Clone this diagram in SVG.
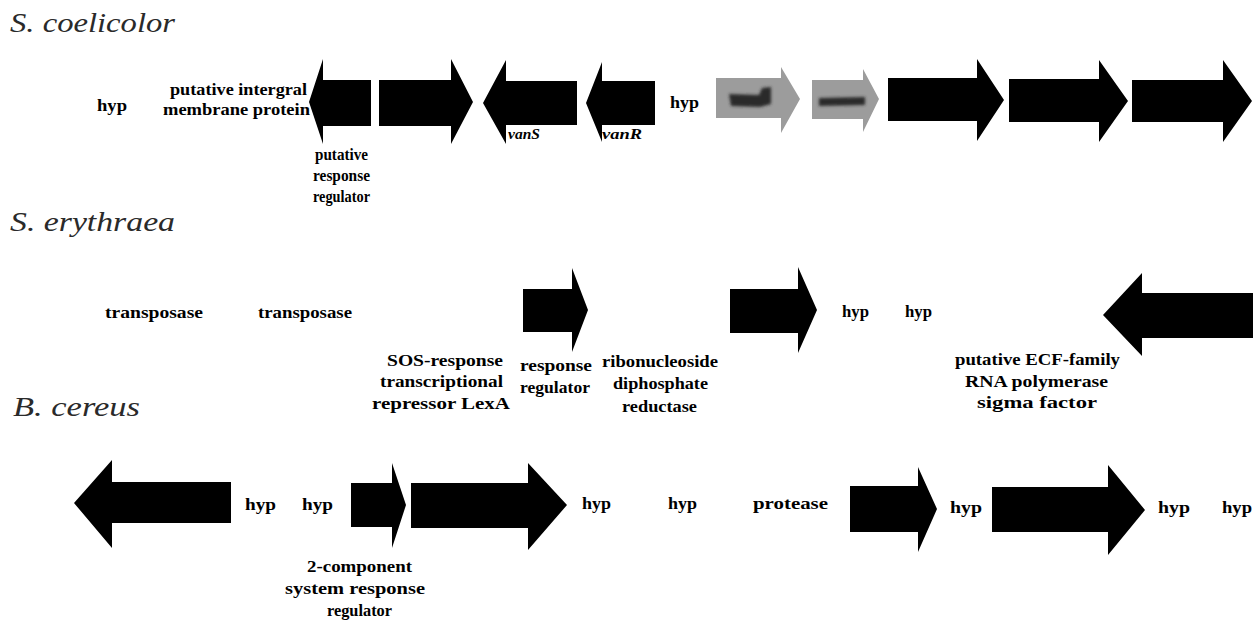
<svg xmlns="http://www.w3.org/2000/svg" width="1253" height="622" viewBox="0 0 1253 622">
<defs>
<filter id="soft" x="-20%" y="-50%" width="140%" height="200%"><feGaussianBlur stdDeviation="1.6"/></filter>
</defs>
<style>
.t{font-family:"Liberation Serif","Times New Roman",serif;font-weight:bold;font-size:17px;fill:#000}
.ti{font-family:"Liberation Serif","Times New Roman",serif;font-style:italic;font-size:28px;fill:#2a2a2a}
.vi{font-family:"Liberation Serif","Times New Roman",serif;font-style:italic;font-weight:bold;font-size:15px;fill:#000}
.g{fill:#000}
.gr{fill:#9c9c9c}
.grd{fill:#2a2a2a;filter:url(#soft)}
</style>
<rect width="1253" height="622" fill="#fff"/>
<g id="titles">
<text class="ti" x="10" y="32" textLength="165" lengthAdjust="spacingAndGlyphs">S. coelicolor</text>
<text class="ti" x="10" y="231" textLength="165" lengthAdjust="spacingAndGlyphs">S. erythraea</text>
<text class="ti" x="13" y="416" textLength="127" lengthAdjust="spacingAndGlyphs">B. cereus</text>
</g>
<g id="connectors"></g>
<!-- Row 1: S. coelicolor -->
<g id="sc-hyp1"><text class="t" x="97" y="111" textLength="30" lengthAdjust="spacingAndGlyphs">hyp</text></g>
<g id="sc-membrane">
<polygon class="g" points="309,102 323,59 323,80 371,80 371,126 323,126 323,144"/>
<text class="t" x="170" y="95" textLength="137" lengthAdjust="spacingAndGlyphs">putative intergral</text>
<text class="t" x="163" y="115" textLength="147" lengthAdjust="spacingAndGlyphs">membrane protein</text>
</g>
<g id="sc-regulator">
<polygon class="g" points="379,80 451,80 451,59 473,102 451,144 451,126 379,126"/>
<text class="t" x="315" y="160" textLength="53" lengthAdjust="spacingAndGlyphs">putative</text>
<text class="t" x="313" y="181" textLength="57" lengthAdjust="spacingAndGlyphs">response</text>
<text class="t" x="313" y="202" textLength="57" lengthAdjust="spacingAndGlyphs">regulator</text>
</g>
<g id="sc-vanS">
<polygon class="g" points="483,103 506,60 506,81 577,81 577,125 506,125 506,144"/>
<text class="vi" x="508" y="139" textLength="32" lengthAdjust="spacingAndGlyphs">vanS</text>
</g>
<g id="sc-vanR">
<polygon class="g" points="586,103 602,62 602,81 655,81 655,125 602,125 602,142"/>
<text class="vi" x="602" y="139" textLength="40" lengthAdjust="spacingAndGlyphs">vanR</text>
</g>
<g id="sc-hyp2"><text class="t" x="670" y="108" textLength="29" lengthAdjust="spacingAndGlyphs">hyp</text></g>
<g id="sc-grey1">
<polygon class="gr" points="716,78 781,78 781,67 800,99 781,133 781,118 716,118"/>
<path class="grd" d="M729,94 L759,95 L762,88 L771,87 L771,104 L760,107 L731,106 Z"/>
</g>
<g id="sc-grey2">
<polygon class="gr" points="812,80 863,80 863,69 879,99 863,132 863,119 812,119"/>
<path class="grd" d="M819,98 L865,97 L865,105 L819,106 Z"/>
</g>
<g id="sc-g5"><polygon class="g" points="888,78 977,78 977,59 1004,100 977,141 977,121 888,121"/></g>
<g id="sc-g6"><polygon class="g" points="1009,79 1099,79 1099,60 1128,101 1099,142 1099,122 1009,122"/></g>
<g id="sc-g7"><polygon class="g" points="1132,80 1223,80 1223,60 1252,101 1223,142 1223,122 1132,122"/></g>
<!-- Row 2: S. erythraea -->
<g id="se-transposase1"><text class="t" x="105" y="318" textLength="98" lengthAdjust="spacingAndGlyphs">transposase</text></g>
<g id="se-transposase2"><text class="t" x="258" y="318" textLength="94" lengthAdjust="spacingAndGlyphs">transposase</text></g>
<g id="se-lexA">
<text class="t" x="387" y="366" textLength="116" lengthAdjust="spacingAndGlyphs">SOS-response</text>
<text class="t" x="380" y="387" textLength="123" lengthAdjust="spacingAndGlyphs">transcriptional</text>
<text class="t" x="372" y="409" textLength="138" lengthAdjust="spacingAndGlyphs">repressor LexA</text>
</g>
<g id="se-regulator">
<polygon class="g" points="523,289 572,289 572,268 588,310 572,352 572,332 523,332"/>
<text class="t" x="520" y="371" textLength="72" lengthAdjust="spacingAndGlyphs">response</text>
<text class="t" x="520" y="393" textLength="70" lengthAdjust="spacingAndGlyphs">regulator</text>
</g>
<g id="se-rnr">
<text class="t" x="602" y="367" textLength="116" lengthAdjust="spacingAndGlyphs">ribonucleoside</text>
<text class="t" x="613" y="389" textLength="95" lengthAdjust="spacingAndGlyphs">diphosphate</text>
<text class="t" x="622" y="412" textLength="75" lengthAdjust="spacingAndGlyphs">reductase</text>
</g>
<g id="se-g2"><polygon class="g" points="730,289 798,289 798,267 817,310 798,353 798,333 730,333"/></g>
<g id="se-hyp1"><text class="t" x="842" y="317" textLength="27" lengthAdjust="spacingAndGlyphs">hyp</text></g>
<g id="se-hyp2"><text class="t" x="905" y="317" textLength="27" lengthAdjust="spacingAndGlyphs">hyp</text></g>
<g id="se-sigma">
<text class="t" x="955" y="365" textLength="165" lengthAdjust="spacingAndGlyphs">putative ECF-family</text>
<text class="t" x="965" y="387" textLength="143" lengthAdjust="spacingAndGlyphs">RNA polymerase</text>
<text class="t" x="977" y="408" textLength="120" lengthAdjust="spacingAndGlyphs">sigma factor</text>
</g>
<g id="se-g3"><polygon class="g" points="1103,315 1142,273 1142,293 1253,293 1253,338 1142,338 1142,356"/></g>
<!-- Row 3: B. cereus -->
<g id="bc-g1"><polygon class="g" points="74,503 112,460 112,482 231,482 231,523 112,523 112,548"/></g>
<g id="bc-hyp1"><text class="t" x="245" y="510" textLength="31" lengthAdjust="spacingAndGlyphs">hyp</text></g>
<g id="bc-hyp2"><text class="t" x="302" y="510" textLength="31" lengthAdjust="spacingAndGlyphs">hyp</text></g>
<g id="bc-regulator">
<polygon class="g" points="351,483 392,483 392,463 406,505 392,548 392,527 351,527"/>
<text class="t" x="307" y="572" textLength="105" lengthAdjust="spacingAndGlyphs">2-component</text>
<text class="t" x="285" y="594" textLength="140" lengthAdjust="spacingAndGlyphs">system response</text>
<text class="t" x="327" y="616" textLength="65" lengthAdjust="spacingAndGlyphs">regulator</text>
</g>
<g id="bc-g3"><polygon class="g" points="411,483 528,483 528,463 567,505 528,550 528,528 411,528"/></g>
<g id="bc-hyp3"><text class="t" x="582" y="509" textLength="29" lengthAdjust="spacingAndGlyphs">hyp</text></g>
<g id="bc-hyp4"><text class="t" x="668" y="509" textLength="29" lengthAdjust="spacingAndGlyphs">hyp</text></g>
<g id="bc-protease"><text class="t" x="753" y="509" textLength="75" lengthAdjust="spacingAndGlyphs">protease</text></g>
<g id="bc-g4"><polygon class="g" points="850,486 918,486 918,467 937,509 918,552 918,532 850,532"/></g>
<g id="bc-hyp5"><text class="t" x="950" y="513" textLength="32" lengthAdjust="spacingAndGlyphs">hyp</text></g>
<g id="bc-g5"><polygon class="g" points="992,487 1108,487 1108,465 1145,510 1108,555 1108,532 992,532"/></g>
<g id="bc-hyp6"><text class="t" x="1158" y="513" textLength="32" lengthAdjust="spacingAndGlyphs">hyp</text></g>
<g id="bc-hyp7"><text class="t" x="1222" y="513" textLength="30" lengthAdjust="spacingAndGlyphs">hyp</text></g>
</svg>
